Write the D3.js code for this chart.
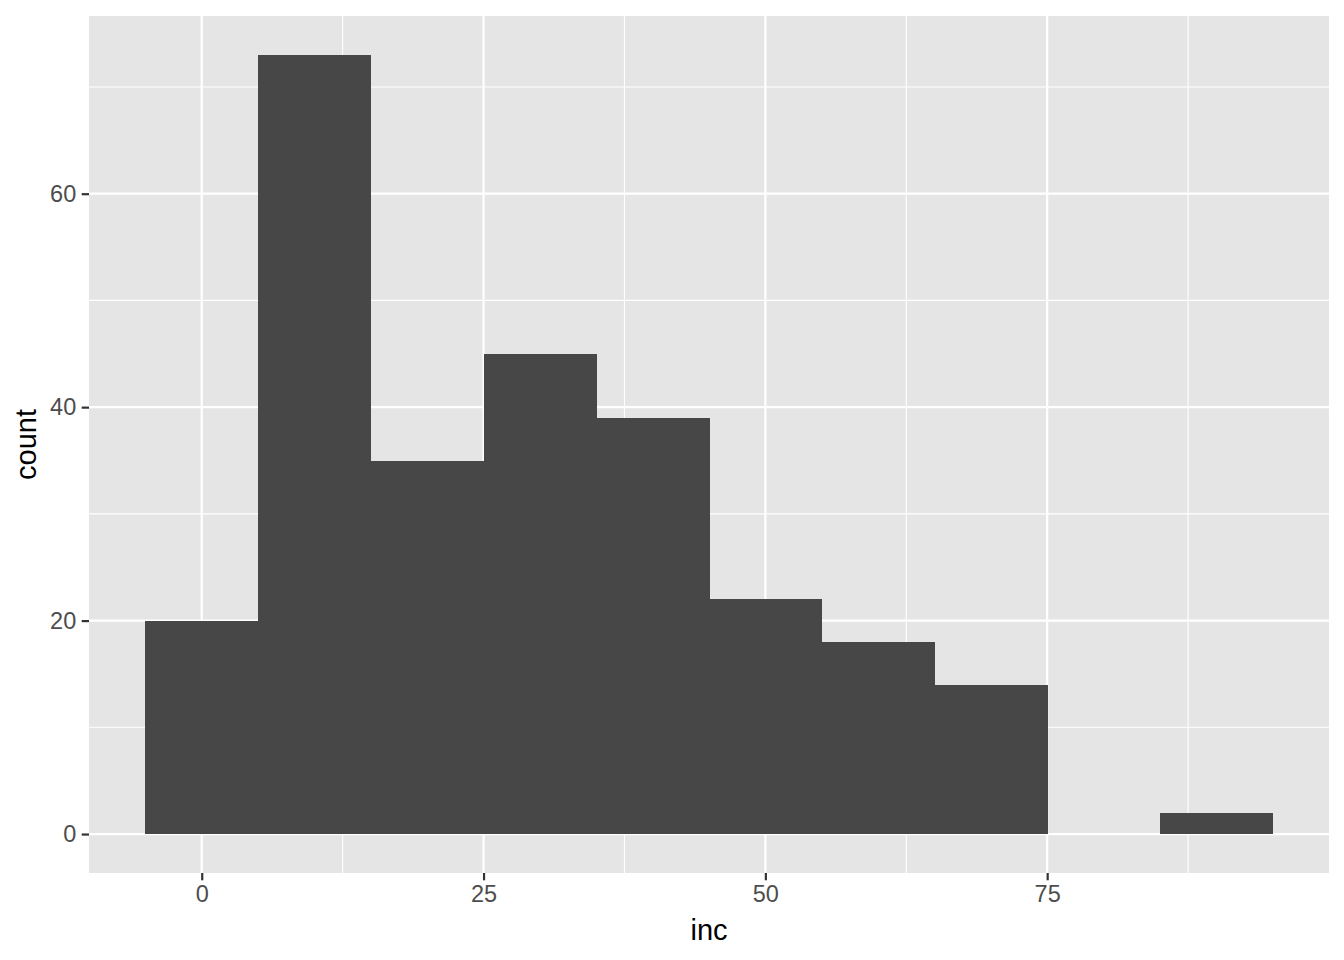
<!DOCTYPE html>
<html><head><meta charset="utf-8">
<script src="https://cdn.jsdelivr.net/npm/d3@7"></script>
<style>body{margin:0;background:#fff}svg{display:block}</style>
</head><body>
<script>
const binStarts = [-5, 5, 15, 25, 35, 45, 55, 65, 75, 85];
const binWidth = 10;
const counts = [20, 73, 35, 45, 39, 22, 18, 14, 0, 2];
const xTicks = [0, 25, 50, 75];
const yTicks = [0, 20, 40, 60];
const xMinor = [12.5, 37.5, 62.5, 87.5];
const yMinor = [10, 30, 50, 70];
const xTitle = "inc", yTitle = "count";

const W = 1344, H = 960;
const P = {l: 89, r: 1329, t: 16, b: 873};
const FONT = "Liberation Sans, Arial, Helvetica, sans-serif";
const svg = d3.select("body").append("svg").attr("width", W).attr("height", H);
const x = d3.scaleLinear().domain([-10, 100]).range([P.l, P.r]);
const y = d3.scaleLinear().domain([-3.65, 76.65]).range([P.b, P.t]);

svg.append("rect").attr("x", P.l).attr("y", P.t).attr("width", P.r - P.l).attr("height", P.b - P.t).attr("fill", "#E5E5E5");
const g = svg.append("g");
g.selectAll(".xm").data(xMinor).join("line").attr("x1", d => x(d)).attr("x2", d => x(d)).attr("y1", P.t).attr("y2", P.b).attr("stroke", "#fff").attr("stroke-width", 1.1);
g.selectAll(".ym").data(yMinor).join("line").attr("y1", d => y(d)).attr("y2", d => y(d)).attr("x1", P.l).attr("x2", P.r).attr("stroke", "#fff").attr("stroke-width", 1.1);
g.selectAll(".xM").data(xTicks).join("line").attr("x1", d => x(d)).attr("x2", d => x(d)).attr("y1", P.t).attr("y2", P.b).attr("stroke", "#fff").attr("stroke-width", 2.2);
g.selectAll(".yM").data(yTicks).join("line").attr("y1", d => y(d)).attr("y2", d => y(d)).attr("x1", P.l).attr("x2", P.r).attr("stroke", "#fff").attr("stroke-width", 2.2);

svg.append("g").attr("shape-rendering", "crispEdges").selectAll("rect")
  .data(binStarts.map((s, i) => ({s, c: counts[i]})).filter(d => d.c > 0))
  .join("rect").attr("x", d => x(d.s)).attr("width", d => x(d.s + binWidth) - x(d.s) + 0.5)
  .attr("y", d => y(d.c)).attr("height", d => y(0) - y(d.c)).attr("fill", "#474747");

const xa = svg.append("g").attr("transform", `translate(0,${P.b})`)
  .call(d3.axisBottom(x).tickValues(xTicks).tickSize(7.3).tickPadding(5.5));
const ya = svg.append("g").attr("transform", `translate(${P.l},0)`)
  .call(d3.axisLeft(y).tickValues(yTicks).tickSize(7.3).tickPadding(5.5));
[xa, ya].forEach(a => {
  a.select(".domain").remove();
  a.selectAll(".tick line").attr("stroke", "#333").attr("stroke-width", 2.2);
  a.selectAll(".tick text").attr("fill", "#4D4D4D").style("font-family", FONT).style("font-size", "23.5px");
});

svg.append("text").attr("x", (P.l + P.r) / 2).attr("y", 940).attr("text-anchor", "middle")
  .style("font-family", FONT).style("font-size", "29px").attr("fill", "#000").text(xTitle);
svg.append("text").attr("transform", `translate(36,${(P.t + P.b) / 2}) rotate(-90)`).attr("text-anchor", "middle")
  .style("font-family", FONT).style("font-size", "29px").attr("fill", "#000").text(yTitle);
</script>
</body></html>
